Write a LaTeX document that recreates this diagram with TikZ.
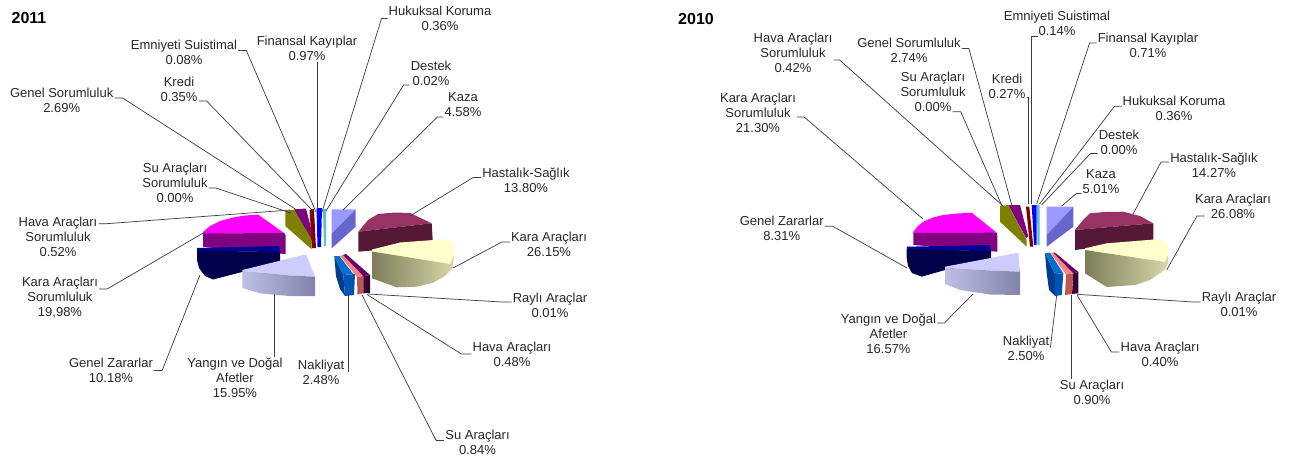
\documentclass[tikz,border=0pt]{standalone}
\usepackage{fontspec}
\setmainfont{Liberation Sans}
\usetikzlibrary{arrows}

\definecolor{txtgray}{RGB}{40,40,40}
\definecolor{leadgray}{RGB}{60,60,60}
\definecolor{peri}{RGB}{153,153,255}
\definecolor{periD}{RGB}{102,102,204}
\definecolor{plum}{RGB}{153,51,102}
\definecolor{plumD}{RGB}{85,25,55}
\definecolor{cream}{RGB}{255,255,204}
\definecolor{creamDa}{RGB}{125,125,90}
\definecolor{creamDb}{RGB}{215,215,170}
\definecolor{salm}{RGB}{255,128,128}
\definecolor{salmD}{RGB}{190,85,80}
\definecolor{dpur}{RGB}{102,0,102}
\definecolor{dpurD}{RGB}{55,0,55}
\definecolor{nblu}{RGB}{0,110,210}
\definecolor{nbluF}{RGB}{0,85,180}
\definecolor{nbluD}{RGB}{0,60,140}
\definecolor{lav}{RGB}{204,204,255}
\definecolor{lavDa}{RGB}{190,190,230}
\definecolor{lavDb}{RGB}{130,130,170}
\definecolor{navy}{RGB}{0,0,150}
\definecolor{navyD}{RGB}{0,0,75}
\definecolor{mag}{RGB}{255,0,255}
\definecolor{magD}{RGB}{128,0,128}
\definecolor{oliv}{RGB}{128,128,0}
\definecolor{purp}{RGB}{128,0,128}
\definecolor{dred}{RGB}{128,0,0}
\definecolor{fblu}{RGB}{0,0,255}
\definecolor{cyn}{RGB}{90,190,210}

\newcommand{\lblfont}{\fontsize{13}{15}\selectfont}

\tikzset{
  lbl/.style={align=center, font=\lblfont, text=txtgray, inner sep=1pt},
  lead/.style={draw=leadgray, line width=0.7pt},
  yr/.style={font=\fontsize{16}{18}\selectfont\bfseries, inner sep=0pt}
}

\begin{document}
\begin{tikzpicture}[x=1pt, y=-1pt]
\useasboundingbox (0,0) rectangle (1292,458);
\fill[white] (0,0) rectangle (1292,458);

\fill[purp] (294,209.5) -- (306,208.5) -- (313,236) -- (311,241) -- cycle;
\fill[oliv] (285.3,211) -- (294,209.5) -- (311.7,239.3) -- (311.7,249.3) -- (285.3,226) -- cycle;
\fill[dred] (309.5,210) -- (314,209) -- (316,248) -- (312,248) -- cycle;
\fill[fblu] (316.5,208) -- (322,208) -- (321,247) -- (317.5,247) -- cycle;
\fill[cyn] (323,209) -- (326,209) -- (326,246) -- (324,246) -- cycle;
\fill[peri] (331.7,209.3) -- (355.7,209.3) -- (331.7,233.3) -- cycle;
\fill[periD] (355.7,209.3) -- (355.7,226.7) -- (331.7,248.3) -- (331.7,233.3) -- cycle;
\fill[plum] (358.3,231.7) -- (368,220) -- (378,214) -- (395,212.5) -- (410,213) -- (431.7,223.3) -- cycle;
\fill[plumD] (358.3,231.7) -- (431.7,223.3) -- (433,245) -- (358.3,251.7) -- cycle;
\fill[mag] (203,232) -- (210,226) -- (220,221) -- (233,217.5) -- (245,215.5) -- (258,214.5) -- (284,233) -- (203,234) -- cycle;
\fill[magD] (203,233.5) -- (284,233) -- (285.5,235) -- (285.5,254) -- (203,247) -- cycle;
\fill[navy] (197,248) -- (279,246) -- (280,252) -- (197,251) -- cycle;
\fill[navyD] (197,250.5) -- (280,252) -- (280,262) -- (242,272) -- (213,279.5) -- (205,276) -- (199,268) -- (197,260) -- cycle;
\fill[cream] (372,249.5) -- (400,242.5) -- (443,239.3) -- (451,240.5) -- (454.5,246) -- (454,255) -- (450,264) -- (372,251.5) -- cycle;
\shade[left color=creamDa, right color=creamDb] (372,251.5) -- (450,264) -- (454,255) -- (452.5,268) -- (445,276) -- (433,282.7) -- (416.7,286.7) -- (396.7,287.3) -- (372,278.3) -- cycle;
\fill[lav] (242.3,270) -- (306,254.3) -- (315,276.7) -- (290,275.5) -- (265,273) -- (242.3,271) -- cycle;
\shade[left color=lavDa, right color=lavDb] (242.3,271) -- (265,273) -- (290,275.5) -- (315,276.7) -- (315,296) -- (290,296) -- (260,293.3) -- (242.3,288) -- cycle;
\fill[nbluD] (334.3,256) -- (343.3,275) -- (345,296) -- (340,289) -- (336,276) -- cycle;
\fill[nblu] (334.3,256) -- (339.3,256) -- (353.3,274) -- (343.3,275) -- cycle;
\fill[nbluF] (343.3,275) -- (355,274) -- (354,295) -- (345,296) -- cycle;
\fill[salm] (340,256) -- (342.7,255) -- (363.3,276) -- (357,277) -- cycle;
\fill[salmD] (357,277) -- (363.3,276) -- (363.3,293.3) -- (357.5,294.5) -- cycle;
\fill[dpur] (343,255) -- (346,254) -- (370,275) -- (363.3,276) -- cycle;
\fill[dpurD] (363.3,276) -- (370,275) -- (370,293) -- (363.3,293.3) -- cycle;

\fill[purp] (1008.3,205) -- (1020,205) -- (1028.3,236.7) -- (1026,238) -- cycle;
\fill[oliv] (1000,206) -- (1008.3,205) -- (1026.7,240) -- (1026.7,246.7) -- (1000,221.7) -- cycle;
\fill[dred] (1026,206.7) -- (1029.3,206.7) -- (1033.3,246.7) -- (1030,246.7) -- cycle;
\fill[fblu] (1031.7,205) -- (1036.7,205) -- (1036.7,245) -- (1034,245) -- cycle;
\fill[cyn] (1037,205) -- (1039.5,205) -- (1039.5,245) -- (1037.5,245) -- cycle;
\fill[peri] (1046.7,206.7) -- (1073.3,206.7) -- (1046.7,235) -- cycle;
\fill[periD] (1073.3,206.7) -- (1073.3,226.7) -- (1046.7,246.7) -- (1046.7,235) -- cycle;
\fill[plum] (1075,230) -- (1083,220) -- (1090,213.3) -- (1105,212) -- (1123.3,211.7) -- (1140,216) -- (1153.3,223.3) -- cycle;
\fill[plumD] (1075,230) -- (1153.3,223.3) -- (1153.3,240) -- (1075,250) -- cycle;
\fill[mag] (913.3,231.7) -- (918,226) -- (923.3,221.7) -- (933,217.5) -- (943.3,215) -- (958,213.5) -- (971.7,212.7) -- (996.7,232.7) -- (913.3,234) -- cycle;
\fill[magD] (913.3,233) -- (996.7,232.7) -- (997.3,235) -- (997.3,251.7) -- (913.3,245) -- cycle;
\fill[navy] (906.7,246.7) -- (990,245) -- (991,251) -- (907,250) -- cycle;
\fill[navyD] (906.7,249) -- (991,251) -- (991,262) -- (945,270) -- (921.7,276.7) -- (912,273) -- (908,266) -- (906.7,258) -- cycle;
\fill[cream] (1085,248.3) -- (1106.7,243.3) -- (1156.7,239.3) -- (1164,240.5) -- (1168.3,246) -- (1168,255) -- (1165,262) -- (1085,250) -- cycle;
\shade[left color=creamDa, right color=creamDb] (1085,250) -- (1165,262) -- (1168,255) -- (1168,263) -- (1164.5,270) -- (1150,280) -- (1135,285) -- (1106.7,287) -- (1085,273.3) -- cycle;
\fill[lav] (945,266.7) -- (1018.3,252.7) -- (1020,271.7) -- (990,270.5) -- (965,269) -- (945,268) -- cycle;
\shade[left color=lavDa, right color=lavDb] (945,268) -- (965,269) -- (990,270.5) -- (1020,271.7) -- (1020,295) -- (990,294.5) -- (960,290) -- (945,284) -- cycle;
\fill[nbluD] (1045,253.3) -- (1055,274) -- (1055,296) -- (1049,290) -- (1046.7,273) -- cycle;
\fill[nblu] (1045,253.3) -- (1050,252.7) -- (1063.3,273.3) -- (1055,274) -- cycle;
\fill[nbluF] (1055,274) -- (1063.3,273.3) -- (1061.7,295) -- (1055,296) -- cycle;
\fill[salm] (1051,253.3) -- (1053.3,252.7) -- (1073.3,273.3) -- (1066,274.5) -- cycle;
\fill[salmD] (1066,274.5) -- (1073.3,273.3) -- (1071.7,294) -- (1065,295) -- cycle;
\fill[dpur] (1053.3,252.7) -- (1055,252.7) -- (1078.3,272) -- (1073.3,273.3) -- cycle;
\fill[dpurD] (1073.3,273.3) -- (1078.3,272) -- (1078.3,293.3) -- (1072,294) -- cycle;

\coordinate (p1-hk) at (322,212);
\coordinate (p1-de) at (326,211);
\coordinate (p1-ka) at (343,210);
\coordinate (p1-hs) at (410,216);
\coordinate (p1-kr) at (453,268);
\coordinate (p1-ry) at (368,294);
\coordinate (p1-hv) at (367,294.5);
\coordinate (p1-su) at (362,295);
\coordinate (p1-nk) at (348,295);
\coordinate (p1-yd) at (274,293.5);
\coordinate (p1-gz) at (200,275);
\coordinate (p1-kas) at (205,232);
\coordinate (p1-has) at (290,210);
\coordinate (p1-sas) at (291,213);
\coordinate (p1-gs) at (300,212);
\coordinate (p1-kd) at (313,211);
\coordinate (p1-es) at (316,212);
\coordinate (p1-fk) at (317,210);

\coordinate (p0-has) at (1003,206);
\coordinate (p0-kas) at (923,219);
\coordinate (p0-gz) at (907,268);
\coordinate (p0-yd) at (973,294);
\coordinate (p0-gs) at (1012,206);
\coordinate (p0-sas) at (1002,206);
\coordinate (p0-kd) at (1028.5,204);
\coordinate (p0-es) at (1031.7,204);
\coordinate (p0-fk) at (1036.7,204);
\coordinate (p0-hk) at (1039.5,204);
\coordinate (p0-de) at (1041.5,205);
\coordinate (p0-ka) at (1061.7,206);
\coordinate (p0-hs) at (1133,214);
\coordinate (p0-kr) at (1166.7,270);
\coordinate (p0-ry) at (1077,294.3);
\coordinate (p0-hv) at (1077,295);
\coordinate (p0-su) at (1071,295);
\coordinate (p0-nk) at (1056.7,295);

\node[yr] (t1) at (29,17.5) {2011};
\node[lbl] (l1-hk) at (440,18.5) {Hukuksal Koruma\\0.36\%};
\node[lbl] (l1-de) at (431,73) {Destek\\0.02\%};
\node[lbl] (l1-ka) at (463,105) {Kaza\\4.58\%};
\node[lbl] (l1-hs) at (526,180.5) {Hastalık-Sağlık\\13.80\%};
\node[lbl] (l1-kr) at (549,244) {Kara Araçları\\26.15\%};
\node[lbl] (l1-ry) at (550,305) {Raylı Araçlar\\0.01\%};
\node[lbl] (l1-hv) at (512,354) {Hava Araçları\\0.48\%};
\node[lbl] (l1-su) at (477.5,442.5) {Su Araçları\\0.84\%};
\node[lbl] (l1-nk) at (321,372) {Nakliyat\\2.48\%};
\node[lbl] (l1-yd) at (235,378) {Yangın ve Doğal\\Afetler\\15.95\%};
\node[lbl] (l1-gz) at (111,370.5) {Genel Zararlar\\10.18\%};
\node[lbl] (l1-kas) at (60,298) {Kara Araçları\\Sorumluluk\\19,98\%};
\node[lbl] (l1-has) at (58,236.7) {Hava Araçları\\Sorumluluk\\0.52\%};
\node[lbl] (l1-sas) at (175,183) {Su Araçları\\Sorumluluk\\0.00\%};
\node[lbl] (l1-gs) at (61.7,100) {Genel Sorumluluk\\2.69\%};
\node[lbl] (l1-kd) at (179,89) {Kredi\\0.35\%};
\node[lbl] (l1-es) at (184,52.5) {Emniyeti Suistimal\\0.08\%};
\node[lbl] (l1-fk) at (307,48.5) {Finansal Kayıplar\\0.97\%};

\node[yr] (t0) at (696,19) {2010};
\node[lbl] (l0-has) at (793,52.5) {Hava Araçları\\Sorumluluk\\0.42\%};
\node[lbl] (l0-kas) at (758,113) {Kara Araçları\\Sorumluluk\\21.30\%};
\node[lbl] (l0-gz) at (781.7,228.3) {Genel Zararlar\\8.31\%};
\node[lbl] (l0-yd) at (888.5,334) {Yangın ve Doğal\\Afetler\\16.57\%};
\node[lbl] (l0-gs) at (909,50.5) {Genel Sorumluluk\\2.74\%};
\node[lbl] (l0-sas) at (933,91.7) {Su Araçları\\Sorumluluk\\0.00\%};
\node[lbl] (l0-kd) at (1007,86.5) {Kredi\\0.27\%};
\node[lbl] (l0-es) at (1057,23.3) {Emniyeti Suistimal\\0.14\%};
\node[lbl] (l0-fk) at (1148,45) {Finansal Kayıplar\\0.71\%};
\node[lbl] (l0-hk) at (1174,108.3) {Hukuksal Koruma\\0.36\%};
\node[lbl] (l0-de) at (1119,142.5) {Destek\\0.00\%};
\node[lbl] (l0-ka) at (1101,181.5) {Kaza\\5.01\%};
\node[lbl] (l0-hs) at (1214,165) {Hastalık-Sağlık\\14.27\%};
\node[lbl] (l0-kr) at (1233,206) {Kara Araçları\\26.08\%};
\node[lbl] (l0-ry) at (1239,304) {Raylı Araçlar\\0.01\%};
\node[lbl] (l0-hv) at (1160,354) {Hava Araçları\\0.40\%};
\node[lbl] (l0-su) at (1092,392.5) {Su Araçları\\0.90\%};
\node[lbl] (l0-nk) at (1026,348) {Nakliyat\\2.50\%};

\draw[lead] (l1-hk.west) -- ++(-6,0) -- (p1-hk);
\draw[lead] ([yshift=-12pt]l1-de.west) -- ++(-6,0) -- (p1-de);
\draw[lead] ([yshift=-12pt]l1-ka.west) -- ++(-6,0) -- (p1-ka);
\draw[lead] ([yshift=3pt]l1-hs.west) -- ++(-8,0) -- (p1-hs);
\draw[lead] ([yshift=2pt]l1-kr.west) -- ++(-8,0) -- (p1-kr);
\draw[lead] ([yshift=3pt]l1-ry.west) -- ++(-10,0) -- (p1-ry);
\draw[lead] (l1-hv.west) -- ++(-10,0) -- (p1-hv);
\draw[lead] ([yshift=2pt]l1-su.west) -- ++(-8,0) -- (p1-su);
\draw[lead] (p1-nk |- l1-nk.east) -- (p1-nk);
\draw[lead] (p1-yd |- l1-yd.north) -- (p1-yd);
\draw[lead] (l1-gz.east) -- ++(8,0) -- (p1-gz);
\draw[lead] ([yshift=9pt]l1-kas.east) -- ++(8,0) -- (p1-kas);
\draw[lead] ([yshift=13pt]l1-has.east) -- ++(8,0) -- (p1-has);
\draw[lead] ([yshift=-5pt]l1-sas.east) -- ++(7,0) -- (p1-sas);
\draw[lead] ([yshift=2pt]l1-gs.east) -- ++(8,0) -- (p1-gs);
\draw[lead] ([yshift=-12pt]l1-kd.east) -- ++(8,0) -- (p1-kd);
\draw[lead] ([yshift=2pt]l1-es.east) -- ++(8,0) -- (p1-es);
\draw[lead] (p1-fk |- l1-fk.south) -- (p1-fk);

\draw[lead] ([yshift=-7.5pt]l0-has.east) -- ++(6,0) -- (p0-has);
\draw[lead] ([yshift=-4pt]l0-kas.east) -- ++(7,0) -- (p0-kas);
\draw[lead] ([yshift=2pt]l0-gz.east) -- ++(8,0) -- (p0-gz);
\draw[lead] ([yshift=11pt]l0-yd.east) -- ++(7,0) -- (p0-yd);
\draw[lead] ([yshift=2pt]l0-gs.east) -- ++(7,0) -- (p0-gs);
\draw[lead] ([xshift=-14pt,yshift=-20pt]l0-sas.east) -- ++(8,0) -- (p0-sas);
\draw[lead] ([yshift=-11pt]l0-kd.east) -| (p0-kd);
\draw[lead] ([xshift=6pt]p0-es |- l0-es.south) -- (p0-es |- l0-es.south) -- (p0-es);
\draw[lead] ([yshift=2pt]l0-fk.west) -- ++(-7,0) -- (p0-fk);
\draw[lead] ([yshift=2pt]l0-hk.west) -- ++(-7,0) -- (p0-hk);
\draw[lead] ([yshift=-11pt]l0-de.west) -- ++(-7,0) -- (p0-de);
\draw[lead] ([yshift=-12pt]l0-ka.west) -- ++(-5,0) -- (p0-ka);
\draw[lead] ([yshift=3pt]l0-hs.west) -- ++(-8,0) -- (p0-hs);
\draw[lead] ([xshift=11pt,yshift=-10pt]l0-kr.west) -- ++(-8,0) -- (p0-kr);
\draw[lead] ([yshift=2pt]l0-ry.west) -- ++(-8,0) -- (p0-ry);
\draw[lead] ([yshift=2pt]l0-hv.west) -- ++(-8,0) -- (p0-hv);
\draw[lead] (p0-su |- l0-su.north) -- (p0-su);
\draw[lead] (l0-nk.east) -- (p0-nk);
\end{tikzpicture}
\end{document}
